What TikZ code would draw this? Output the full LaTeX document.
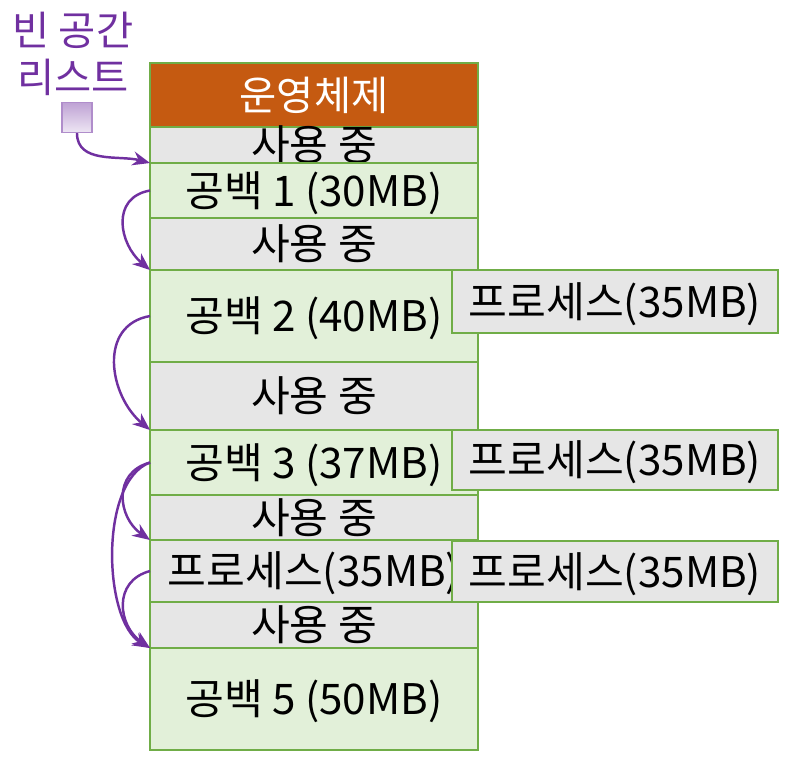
\documentclass[tikz,border=0pt]{standalone}
\usepackage{fontspec}
\setmainfont{Noto Sans CJK KR}
\usetikzlibrary{arrows.meta}

\definecolor{osorange}{HTML}{C55A11}
\definecolor{usedgray}{HTML}{E6E6E6}
\definecolor{holegreen}{HTML}{E2F0D9}
\definecolor{rimgreen}{HTML}{70AD47}
\definecolor{listpurple}{HTML}{7030A0}

\begin{document}
\begin{tikzpicture}[x=0.02cm, y=-0.02cm,
    row/.style={draw=rimgreen, line width=1.1pt, inner sep=0pt, outer sep=0pt,
        text height=18pt, text depth=0pt, font=\fontsize{24}{28}\selectfont},
    osbox/.style={row, fill=osorange, text=white, font=\fontsize{23}{28}\selectfont},
    usedbox/.style={row, fill=usedgray},
    holebox/.style={row, fill=holegreen},
    procbox/.style={row, fill=usedgray, line width=1.6pt},
    flow/.style={draw=listpurple, line width=1.4pt, -{Stealth[length=10pt, width=8pt]}}]

    \useasboundingbox (0,0) rectangle (810,774);

    % Memory column, top to bottom
    \foreach \nm/\ya/\yb/\sty/\txt in {
        os/63/127/osbox/운영체제,
        usedA/127/163/usedbox/사용 중,
        hole1/163/218/holebox/공백 1 (30MB),
        usedB/218/270/usedbox/사용 중,
        hole2/270/362/holebox/공백 2 (40MB),
        usedC/362/430/usedbox/사용 중,
        hole3/430/495/holebox/공백 3 (37MB),
        usedD/495/540/usedbox/사용 중,
        hole4/540/602/procbox/프로세스(35MB),
        usedE/602/648/usedbox/사용 중,
        hole5/648/750/holebox/공백 5 (50MB)}{
        \node[\sty, minimum width=6.56cm, minimum height={(\yb-\ya)*0.02cm}]
            (\nm) at (314,{(\ya+\yb)/2}) {\txt};
    }

    % Processes waiting to be placed
    \foreach \nm/\ya/\yb in {procA/270/333, procB/430/490, procC/541/602}{
        \node[procbox, minimum width=6.52cm, minimum height={(\yb-\ya)*0.02cm}]
            (\nm) at (615,{(\ya+\yb)/2}) {프로세스(35MB)};
    }

    % Free list head
    \node[align=center, text=listpurple, font=\fontsize{23}{27}\selectfont]
        (flabel) at (73,54) {빈 공간\\리스트};
    \node[draw=listpurple!55, line width=0.8pt, top color=listpurple!45!white,
        bottom color=listpurple!12!white, minimum size=0.6cm, inner sep=0pt]
        (fl) at (77,117.5) {};

    % Links between the holes
    \draw[flow] (fl.south) to[out=-90, in=165] (usedA.south west);
    \draw[flow] (hole1.west) to[out=190, in=140, looseness=1.3] (hole2.north west);
    \draw[flow] (hole2.west) to[out=190, in=140, looseness=1.2] (hole3.north west);
    \draw[flow] (hole3.west) to[out=195, in=145, looseness=1.3] (hole4.north west);
    \draw[flow] (hole3.west) to[out=200, in=150, looseness=0.75] (hole5.north west);
    \draw[flow] (hole4.west) to[out=195, in=145, looseness=1.3] (hole5.north west);
\end{tikzpicture}
\end{document}
